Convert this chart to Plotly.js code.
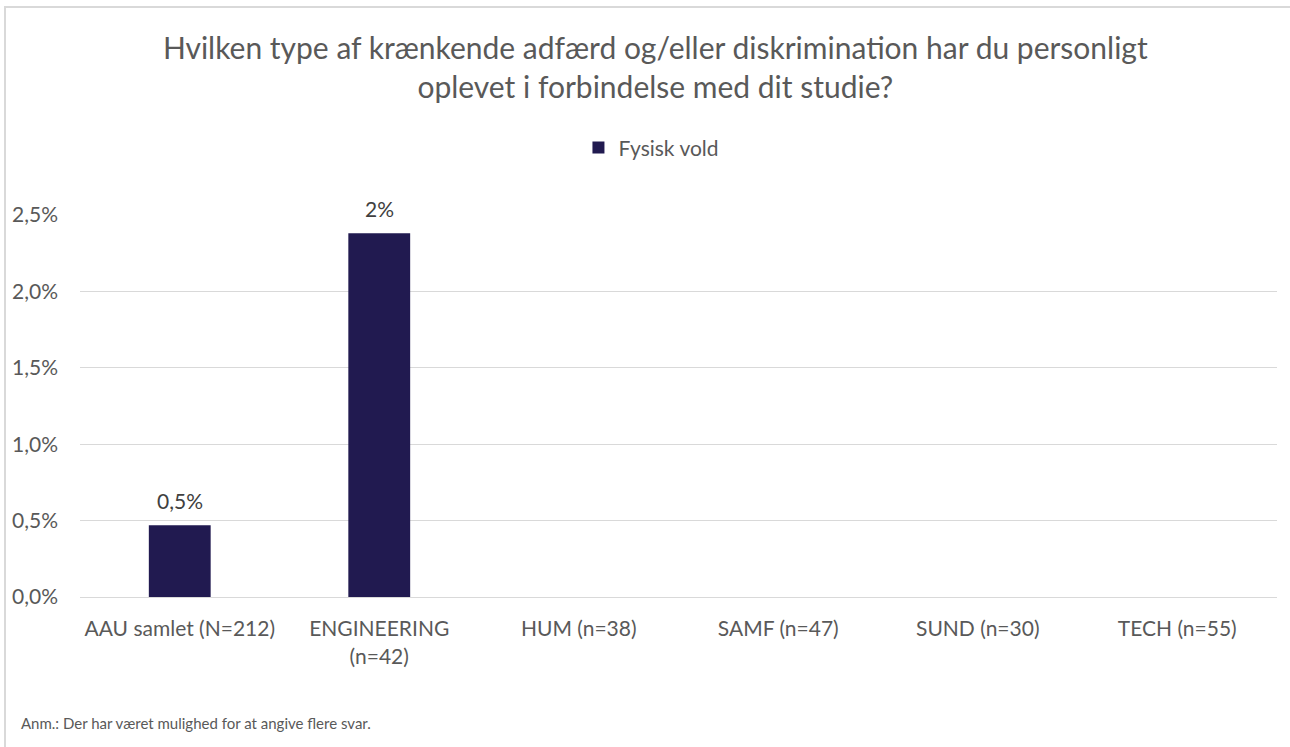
<!DOCTYPE html>
<html>
<head>
<meta charset="utf-8">
<script src="https://cdn.plot.ly/plotly-3.0.1.min.js"></script>
<style>
  html, body { margin: 0; padding: 0; background: #ffffff; overflow: hidden; width: 1290px; height: 747px; }
  #frame { position: absolute; left: 4px; top: 6px; width: 1286px; height: 741px; border-left: 2px solid #d9d9d9; border-top: 2px solid #d9d9d9; box-sizing: border-box; }
  #chart { position: absolute; left: 0; top: 0; width: 1290px; height: 747px; }
</style>
</head>
<body>
<div id="frame"></div>
<div id="chart"></div>
<script>
const categories = ['AAU samlet (N=212)', 'ENGINEERING<br>(n=42)', 'HUM (n=38)', 'SAMF (n=47)', 'SUND (n=30)', 'TECH (n=55)'];
const fysiskVold = [0.0047, 0.0238, 0, 0, 0, 0];
const valueLabels = ['0,5%', '2%', '', '', '', ''];
const seriesName = 'Fysisk vold';
const yTickVals = [0, 0.005, 0.01, 0.015, 0.02, 0.025];
const yTickText = ['0,0%', '0,5%', '1,0%', '1,5%', '2,0%', '2,5%'];

const fontFam = 'Lato, "Open Sans", sans-serif';

const trace = {
  type: 'bar',
  x: categories,
  y: fysiskVold,
  name: seriesName,
  marker: { color: '#211a50' },
  width: 0.31,
  hoverinfo: 'x+y',
  showlegend: true
};

const labelAnnotations = categories.map((c, i) => ({
  x: c, y: fysiskVold[i], xref: 'x', yref: 'y',
  text: valueLabels[i],
  showarrow: false,
  yanchor: 'middle',
  yshift: 25,
  font: { family: fontFam, size: 21, color: '#404040' }
})).filter(a => a.text !== '');

const layout = {
  width: 1290,
  height: 747,
  paper_bgcolor: 'rgba(0,0,0,0)',
  plot_bgcolor: 'rgba(0,0,0,0)',
  font: { family: fontFam, color: '#595959' },
  margin: { l: 80, r: 13, t: 215, b: 150 },
  title: {
    text: 'Hvilken type af krænkende adfærd og/eller diskrimination har du personligt<br>oplevet i forbindelse med dit studie?',
    font: { family: fontFam, size: 30, color: '#595959' },
    xref: 'container', x: 0.508, xanchor: 'center',
    yref: 'container', y: 0.921, yanchor: 'middle'
  },
  showlegend: true,
  legend: {
    orientation: 'h',
    xref: 'container', x: 0.505, xanchor: 'center',
    yref: 'container', y: 0.802, yanchor: 'middle',
    font: { family: fontFam, size: 21, color: '#595959' },
    itemwidth: 30
  },
  xaxis: {
    type: 'category',
    showgrid: false,
    showline: true,
    linecolor: '#d9d9d9',
    linewidth: 1,
    ticks: '',
    tickfont: { family: fontFam, size: 21, color: '#595959' },
    ticklabelstandoff: 13,
    fixedrange: true
  },
  yaxis: {
    range: [0, 0.025],
    tickvals: yTickVals,
    ticktext: yTickText,
    showgrid: true,
    gridcolor: '#d9d9d9',
    gridwidth: 1,
    zeroline: false,
    showline: false,
    ticks: '',
    tickfont: { family: fontFam, size: 21, color: '#595959' },
    ticklabelstandoff: 21,
    fixedrange: true
  },
  annotations: labelAnnotations.concat([{
    text: 'Anm.: Der har været mulighed for at angive flere svar.',
    xref: 'paper', yref: 'paper',
    x: -0.051, y: -0.33,
    xanchor: 'left', yanchor: 'middle',
    showarrow: false,
    font: { family: fontFam, size: 15, color: '#595959' }
  }])
};

Plotly.newPlot('chart', [trace], layout, { displayModeBar: false, staticPlot: true });
</script>
</body>
</html>
